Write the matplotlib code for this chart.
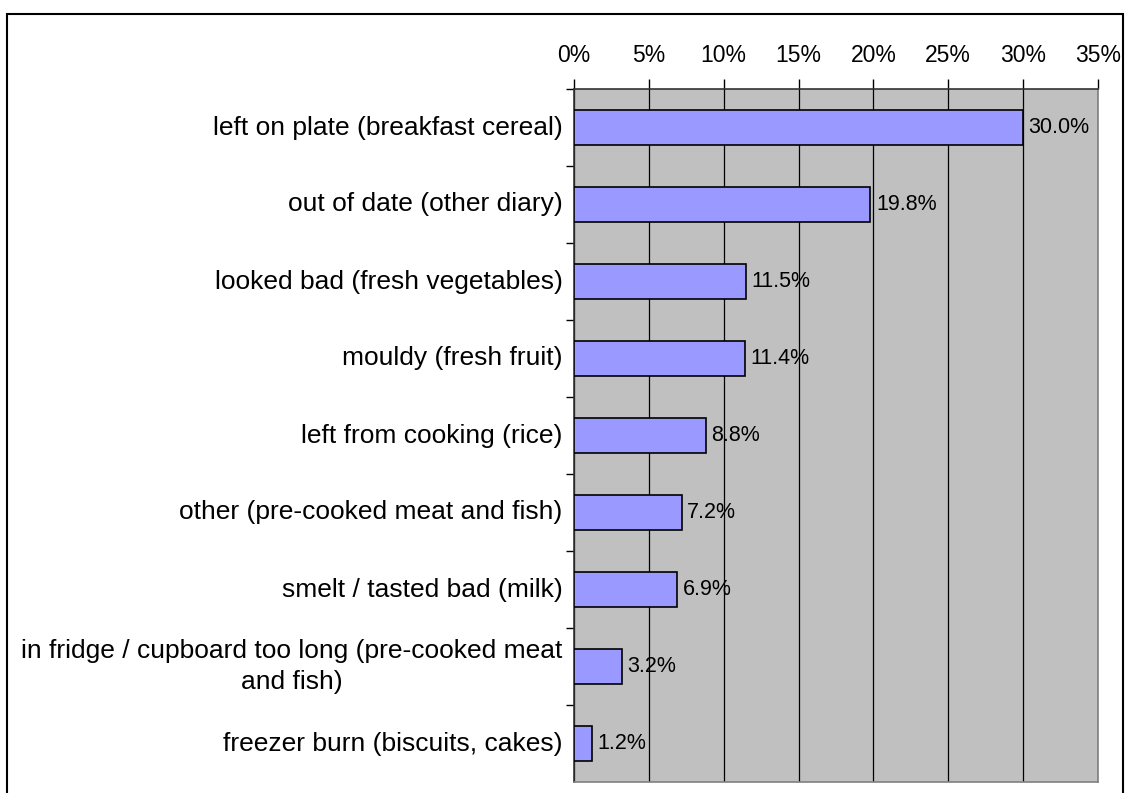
import matplotlib
matplotlib.use("Agg")
import matplotlib.pyplot as plt
from matplotlib.patches import Rectangle

plt.rcParams['font.family'] = ['Liberation Sans', 'DejaVu Sans']

reasons = [
    "left on plate (breakfast cereal)",
    "out of date (other diary)",
    "looked bad (fresh vegetables)",
    "mouldy (fresh fruit)",
    "left from cooking (rice)",
    "other (pre-cooked meat and fish)",
    "smelt / tasted bad (milk)",
    "in fridge / cupboard too long (pre-cooked meat\nand fish)",
    "freezer burn (biscuits, cakes)",
]
shares = [30.0, 19.8, 11.5, 11.4, 8.8, 7.2, 6.9, 3.2, 1.2]
x_ticks = [0, 5, 10, 15, 20, 25, 30, 35]

W, H = 1127, 793
fig = plt.figure(figsize=(W / 100, H / 100), dpi=100)
fig.patch.set_facecolor("white")

# outer frame round the whole chart
fig.patches.append(Rectangle((7 / W, -0.01), 1116 / W, 1 - 14 / H + 0.01,
                             transform=fig.transFigure, fill=False,
                             edgecolor="black", linewidth=1.5))

ax = fig.add_axes([574 / W, 11 / H, 524 / W, 693 / H])
ax.set_facecolor("#c0c0c0")

ypos = list(range(len(reasons)))
ax.barh(ypos, shares, height=0.46, color="#9999ff", edgecolor="black",
        linewidth=1.2, zorder=3)

for y, v in zip(ypos, shares):
    ax.annotate(f"{v:.1f}%", (v, y), xytext=(4, 0), textcoords="offset points",
                va="center", ha="left", fontsize=15.5, zorder=4)

ax.set_xlim(0, 35)
ax.set_ylim(len(reasons) - 0.5, -0.5)
ax.xaxis.tick_top()
ax.set_xticks(x_ticks)
ax.set_xticklabels([f"{t}%" for t in x_ticks], fontsize=16.5)
ax.tick_params(axis="x", direction="out", length=7, width=1, pad=9)
ax.grid(axis="x", color="black", linewidth=0.9, zorder=1)

# y ticks sit between categories, labels at the centres
ax.set_yticks([i - 0.5 for i in range(len(reasons))])
ax.set_yticklabels([])
ax.tick_params(axis="y", direction="out", length=6, width=1)
for y, name in zip(ypos, reasons):
    ax.text(-0.022, y, name, transform=ax.get_yaxis_transform(), ha="right",
            va="center", multialignment="center", fontsize=19,
            linespacing=1.35)

for side in ["top", "left"]:
    ax.spines[side].set_color("#333333")
    ax.spines[side].set_linewidth(1.2)
for side in ["right", "bottom"]:
    ax.spines[side].set_color("#808080")
    ax.spines[side].set_linewidth(1.2)

fig.savefig("out.png", dpi=100)
